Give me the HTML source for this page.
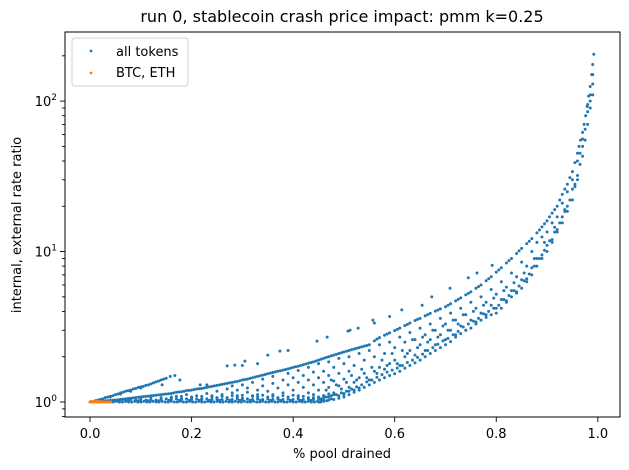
<!DOCTYPE html>
<html><head><meta charset="utf-8"><style>
html,body{margin:0;padding:0;background:#fff}
svg{display:block;font-family:"DejaVu Sans","Liberation Sans",sans-serif}
</style></head><body>
<svg id="chart" width="629" height="470" viewBox="0 0 629 470" xmlns="http://www.w3.org/2000/svg">
<rect x="0" y="0" width="629" height="470" fill="#fff"/>
<text x="342" y="22" font-size="16" text-anchor="middle" fill="#000">run 0, stablecoin crash price impact: pmm k=0.25</text>
<g id="marks"></g>
<g id="axes"></g>
<rect x="65" y="32" width="555" height="385" fill="none" stroke="#000" stroke-width="1"/>
<text x="342" y="458" font-size="13" text-anchor="middle">% pool drained</text>
<text transform="translate(21,225) rotate(-90)" font-size="13" text-anchor="middle">internal, external rate ratio</text>
<g>
<rect x="72" y="38" width="116" height="48" rx="3" fill="#fff" stroke="#ccc" stroke-width="1" opacity="0.9"/>
<circle cx="91" cy="51" r="1.4" fill="#1f77b4"/>
<text x="116" y="56" font-size="13">all tokens</text>
<circle cx="91" cy="73" r="1.4" fill="#ff7f0e"/>
<text x="116" y="77" font-size="13">BTC, ETH</text>
</g>
</svg>
<script>
const xTicks=[0,0.2,0.4,0.6,0.8,1.0];
const xTickLabels=["0.0","0.2","0.4","0.6","0.8","1.0"];
const yMajor=[1,10,100];
const yMajorExp=["0","1","2"];
const branchPts=[[0.01,1.02],[0.015,1.03],[0.02,1.04],[0.025,1.05],[0.03,1.07],[0.035,1.08],[0.04,1.09],[0.045,1.1],[0.05,1.12],[0.055,1.13],[0.06,1.15],[0.065,1.16],[0.07,1.18],[0.075,1.19],[0.08,1.2],[0.085,1.22],[0.09,1.23],[0.095,1.25],[0.1,1.26],[0.105,1.27],[0.11,1.29],[0.115,1.3],[0.12,1.32],[0.125,1.34],[0.13,1.36],[0.135,1.38],[0.14,1.4],[0.145,1.42],[0.15,1.44],[0.158,1.48],[0.02,1.03],[0.04,1.08],[0.06,1.13],[0.08,1.18],[0.1,1.24]];
const upperPts=[[0,1],[0.01,1.005],[0.02,1.01],[0.03,1.02],[0.04,1.025],[0.05,1.03],[0.06,1.04],[0.07,1.05],[0.08,1.06],[0.09,1.07],[0.1,1.08],[0.11,1.09],[0.12,1.1],[0.13,1.11],[0.14,1.12],[0.15,1.13],[0.16,1.14],[0.17,1.16],[0.18,1.17],[0.19,1.19],[0.2,1.2],[0.21,1.22],[0.22,1.23],[0.23,1.25],[0.24,1.27],[0.25,1.29],[0.26,1.31],[0.27,1.33],[0.28,1.35],[0.29,1.37],[0.3,1.4],[0.31,1.42],[0.32,1.45],[0.33,1.48],[0.34,1.51],[0.35,1.54],[0.36,1.57],[0.37,1.6],[0.38,1.63],[0.39,1.66],[0.4,1.7],[0.41,1.73],[0.42,1.77],[0.43,1.81],[0.44,1.85],[0.45,1.9],[0.46,1.95],[0.47,2.0],[0.48,2.05],[0.49,2.1],[0.5,2.15],[0.51,2.2],[0.52,2.25],[0.53,2.3],[0.54,2.35],[0.55,2.4],[0.56,2.55],[0.57,2.68],[0.58,2.78],[0.59,2.88],[0.6,2.98],[0.61,3.1],[0.62,3.22],[0.63,3.35],[0.64,3.48],[0.65,3.6],[0.66,3.74],[0.67,3.88],[0.68,4.02],[0.69,4.16],[0.7,4.3],[0.71,4.5],[0.72,4.7],[0.73,4.92],[0.74,5.15],[0.75,5.4],[0.76,5.7],[0.77,6.0],[0.78,6.4],[0.79,6.8],[0.8,7.3],[0.81,7.8],[0.82,8.4],[0.83,9.0],[0.84,9.7],[0.85,10.5],[0.86,11.3],[0.87,12.2],[0.88,13.3],[0.89,14.6],[0.9,16],[0.905,17],[0.91,18],[0.915,19],[0.92,20],[0.925,22],[0.93,24],[0.935,26],[0.94,28],[0.945,31],[0.95,34],[0.955,39],[0.96,45],[0.963,50],[0.966,55],[0.97,62],[0.973,70],[0.976,80],[0.979,92],[0.982,108],[0.985,125],[0.988,150],[0.99,175],[0.992,205],
[0.005,1.003],[0.015,1.008],[0.025,1.015],[0.035,1.022],[0.045,1.028],[0.055,1.035],[0.065,1.045],[0.075,1.055],[0.085,1.065],[0.095,1.075],[0.105,1.085],[0.115,1.095],[0.125,1.105],[0.135,1.115],[0.145,1.125],[0.155,1.135],[0.165,1.15],[0.175,1.165],[0.185,1.18],[0.195,1.195],[0.205,1.21],[0.215,1.225],[0.225,1.24],[0.235,1.26],[0.245,1.28],[0.255,1.3],[0.265,1.32],[0.275,1.34],[0.285,1.36],[0.295,1.385],[0.305,1.41],[0.315,1.435],[0.325,1.465],[0.335,1.495],[0.345,1.525],[0.355,1.555],[0.365,1.585],[0.375,1.615],[0.385,1.645],[0.395,1.68],[0.405,1.715],[0.415,1.75],[0.425,1.79],[0.435,1.83],[0.445,1.875],[0.455,1.925],[0.465,1.975],[0.475,2.025],[0.485,2.075],[0.495,2.125],[0.505,2.175],[0.515,2.225],[0.525,2.275],[0.535,2.325],[0.545,2.375],[0.565,2.62],[0.585,2.83],[0.605,3.04],[0.625,3.28],[0.645,3.54],[0.665,3.81],[0.685,4.09],[0.705,4.4],[0.725,4.81],[0.745,5.27],[0.765,5.85],[0.785,6.6],[0.805,7.55],[0.825,8.7],[0.845,10.1],[0.865,11.7],[0.885,13.9],[0.895,15.3]];
const lowerPts=[[0.45,1.0],[0.46,1.02],[0.47,1.03],[0.48,1.04],[0.49,1.06],[0.5,1.08],[0.51,1.12],[0.52,1.16],[0.53,1.2],[0.54,1.25],[0.55,1.3],[0.56,1.35],[0.57,1.4],[0.58,1.45],[0.59,1.5],[0.6,1.54],[0.61,1.6],[0.62,1.68],[0.63,1.75],[0.64,1.82],[0.65,1.9],[0.66,2.0],[0.67,2.1],[0.68,2.2],[0.69,2.3],[0.7,2.4],[0.71,2.52],[0.72,2.7],[0.73,2.85],[0.74,3.0],[0.75,3.1],[0.76,3.3],[0.77,3.5],[0.78,3.65],[0.79,3.8],[0.8,3.9],[0.81,4.2],[0.82,4.6],[0.83,5.0],[0.84,5.3],[0.85,5.7],[0.86,6.3],[0.87,7.0],[0.88,8],[0.89,9],[0.9,10],[0.91,11.5],[0.92,13.5],[0.93,15.5],[0.94,18.5],[0.95,22],[0.96,30],[0.97,43],[0.98,70],[0.99,110],
[0.455,1.05],[0.465,1.08],[0.475,1.1],[0.485,1.12],[0.495,1.15],[0.505,1.18],[0.515,1.22],[0.525,1.26],[0.535,1.3],[0.545,1.36],[0.555,1.4],[0.565,1.46],[0.575,1.52],[0.585,1.58],[0.595,1.63],[0.605,1.68],[0.615,1.75],[0.625,1.83],[0.635,1.9],[0.645,1.98],[0.655,2.08],[0.665,2.2],[0.675,2.3],[0.685,2.42],[0.695,2.55],[0.705,2.65],[0.715,2.8],[0.725,2.95],[0.735,3.15],[0.745,3.3],[0.755,3.45],[0.765,3.6],[0.775,3.85],[0.785,4.0],[0.795,4.2],[0.805,4.4],[0.815,4.8],[0.825,5.1],[0.835,5.5],[0.845,5.9],[0.855,6.4],[0.865,7.1],[0.875,8.0],[0.885,9.0],[0.895,10.2],[0.905,11.8],[0.915,13.5],[0.925,15.5],[0.935,18.5],[0.945,22],[0.955,28],[0.965,38],[0.975,55],[0.985,90]];
const bandPts=[[0.04,1.0],[0.046,1.0],[0.052,1.01],[0.058,1.0],[0.064,1.0],[0.07,1.01],[0.076,1.0],[0.082,1.0],[0.088,1.01],[0.094,1.0],[0.1,1.0],[0.106,1.01],[0.112,1.0],[0.118,1.0],[0.124,1.01],[0.13,1.0],[0.136,1.0],[0.142,1.01],[0.148,1.0],[0.154,1.0],[0.16,1.01],[0.166,1.0],[0.172,1.0],[0.178,1.01],[0.184,1.0],[0.19,1.0],[0.196,1.01],[0.202,1.0],[0.208,1.0],[0.214,1.01],[0.22,1.0],[0.226,1.0],[0.232,1.01],[0.238,1.0],[0.244,1.0],[0.25,1.01],[0.256,1.0],[0.262,1.0],[0.268,1.01],[0.274,1.0],[0.28,1.0],[0.286,1.01],[0.292,1.0],[0.298,1.0],[0.304,1.01],[0.31,1.0],[0.316,1.0],[0.322,1.01],[0.328,1.0],[0.334,1.0],[0.34,1.01],[0.346,1.0],[0.352,1.0],[0.358,1.01],[0.364,1.0],[0.37,1.0],[0.376,1.01],[0.382,1.0],[0.388,1.0],[0.394,1.01],[0.4,1.0],[0.406,1.0],[0.412,1.01],[0.418,1.0],[0.424,1.0],[0.43,1.01],[0.436,1.0],[0.442,1.0],[0.448,1.01],[0.454,1.0],[0.46,1.01],[0.466,1.02],
[0.05,1.03],[0.06,1.04],[0.07,1.03],[0.08,1.04],[0.09,1.03],[0.1,1.04],[0.11,1.03],[0.12,1.04],[0.13,1.03],[0.14,1.04],[0.15,1.05],[0.16,1.04],[0.17,1.05],[0.18,1.04],[0.19,1.05],[0.2,1.04],[0.21,1.05],[0.22,1.04],[0.23,1.05],[0.24,1.04],[0.25,1.05],[0.26,1.04],[0.27,1.05],[0.28,1.04],[0.29,1.05],[0.3,1.04],[0.31,1.05],[0.32,1.04],[0.33,1.05],[0.34,1.04],[0.35,1.05],[0.36,1.04],[0.37,1.05],[0.38,1.04],[0.39,1.05],[0.4,1.04],[0.41,1.05],[0.42,1.04],[0.43,1.05],[0.44,1.04],[0.45,1.05],[0.46,1.06],[0.47,1.08],
[0.055,1.02],[0.075,1.02],[0.095,1.02],[0.115,1.02],[0.135,1.02],[0.155,1.025],[0.175,1.025],[0.195,1.025],[0.215,1.025],[0.235,1.025],[0.255,1.025],[0.275,1.025],[0.295,1.025],[0.315,1.025],[0.335,1.025],[0.355,1.025],[0.375,1.025],[0.395,1.025],[0.415,1.025],[0.435,1.025],[0.455,1.03],[0.475,1.05],
[0.1,1.07],[0.12,1.08],[0.14,1.07],[0.16,1.08],[0.18,1.09],[0.2,1.08],[0.22,1.09],[0.24,1.1],[0.26,1.09],[0.28,1.1],[0.3,1.11],[0.32,1.1],[0.34,1.11],[0.36,1.09],[0.38,1.1],[0.4,1.11],[0.42,1.09],[0.44,1.12],[0.46,1.1],[0.48,1.12],
[0.25,1.07],[0.29,1.08],[0.33,1.08],[0.37,1.07],[0.41,1.08],[0.43,1.07],[0.45,1.08],[0.47,1.13],[0.49,1.1],[0.5,1.14],[0.51,1.18],[0.52,1.2],[0.53,1.24]];
const scatterPts=[[0.16,1.06],[0.17,1.09],[0.18,1.05],[0.19,1.12],[0.2,1.07],[0.21,1.1],[0.22,1.05],[0.23,1.14],[0.24,1.08],[0.25,1.18],[0.25,1.06],[0.26,1.12],[0.27,1.22],[0.27,1.07],[0.28,1.15],[0.28,1.28],[0.29,1.1],[0.29,1.2],[0.3,1.06],[0.3,1.3],[0.31,1.16],[0.31,1.24],[0.32,1.09],[0.32,1.35],[0.33,1.2],[0.33,1.12],[0.34,1.28],[0.34,1.42],[0.35,1.08],[0.35,1.18],[0.36,1.33],[0.36,1.48],[0.36,1.12],[0.37,1.24],[0.37,1.05],[0.38,1.4],[0.38,1.15],[0.39,1.3],[0.39,1.55],[0.39,1.08],[0.4,1.2],[0.4,1.45],[0.41,1.1],[0.41,1.35],[0.41,1.62],[0.42,1.25],[0.42,1.5],[0.43,1.15],[0.43,1.7],[0.43,1.4],[0.44,1.3],[0.44,1.58],[0.44,1.07],[0.45,1.2],[0.45,1.8],[0.45,1.45],[0.46,1.1],[0.46,1.6],[0.46,1.35],[0.47,1.25],[0.47,1.85],[0.47,1.5],[0.48,1.15],[0.48,1.7],[0.48,1.38],[0.49,1.28],[0.49,1.95],[0.49,1.55],[0.5,1.12],[0.5,1.8],[0.5,1.42],[0.51,1.25],[0.51,2.0],[0.51,1.6],[0.52,1.35],[0.52,1.75],[0.53,1.45],[0.53,2.1],[0.54,1.55],[0.54,1.9],[0.55,1.4],[0.55,2.2],[0.56,1.6],[0.56,2.0],[0.57,1.7],[0.57,2.4],[0.58,1.65],[0.58,2.1],[0.59,1.8],[0.59,2.5],[0.6,1.9],[0.6,2.3],[0.61,1.75],[0.61,2.7],[0.62,2.0],[0.62,2.5],[0.63,2.2],[0.63,2.9],[0.64,2.05],[0.64,2.6],[0.65,2.4],[0.65,3.1],[0.66,2.2],[0.66,2.8],[0.67,2.6],[0.67,3.3],[0.68,2.4],[0.68,3.0],[0.69,2.8],[0.69,3.6],[0.7,2.6],[0.7,3.3],[0.71,3.0],[0.71,3.9],[0.72,2.8],[0.72,3.5],[0.73,3.2],[0.73,4.2],[0.74,3.0],[0.74,3.8],[0.75,3.5],[0.75,4.6],[0.76,3.4],[0.76,4.2],[0.77,3.9],[0.77,5.0],[0.78,3.8],[0.78,4.6],[0.79,4.4],[0.79,5.6],[0.8,4.2],[0.8,5.2],[0.81,4.8],[0.81,6.3],[0.82,4.7],[0.82,5.8],[0.83,5.5],[0.83,7.2],[0.84,5.4],[0.84,6.8],[0.85,6.5],[0.85,8.5],[0.86,6.6],[0.86,8.0],[0.87,7.8],[0.87,10],[0.88,9.0],[0.88,11.5],[0.89,9.5],[0.89,12.5],[0.9,11],[0.9,13.5],[0.91,12],[0.91,15.5],[0.92,14],[0.92,17],[0.93,17],[0.93,21],[0.94,20],[0.94,25],[0.95,26],[0.95,30],[0.96,32],[0.96,40],[0.97,50],[0.97,56],[0.98,85],[0.98,95],[0.985,100],[0.99,130],[0.99,150],
[0.465,1.2],[0.475,1.4],[0.485,1.3],[0.495,1.22],[0.505,1.35],[0.515,1.5],[0.525,1.4],[0.535,1.65],[0.545,1.45],[0.555,1.7],[0.565,1.55],[0.575,1.9],[0.585,1.75],[0.595,2.1],[0.605,1.8],[0.615,2.2],[0.625,2.1],[0.635,2.6],[0.645,2.3],[0.655,2.7],[0.665,2.5],[0.675,3.0],[0.685,2.7],[0.695,3.2],[0.705,3.0],[0.715,3.5],[0.725,3.3],[0.735,3.8],[0.755,4.0],[0.775,4.4],[0.795,4.9],[0.815,5.5],[0.835,6.2],[0.855,7.2],[0.875,9.0],[0.895,11.5],[0.915,14.5],[0.935,19],[0.955,27],[0.965,45],[0.975,65],[0.985,110]];
const outlierPts=[[0.167,1.5],[0.177,1.4],[0.142,1.3],[0.217,1.3],[0.23,1.3],[0.27,1.74],[0.285,1.76],[0.3,1.75],[0.305,1.87],[0.33,1.8],[0.35,2.05],[0.374,2.18],[0.39,2.2],[0.447,2.54],[0.467,2.7],[0.508,2.96],[0.528,3.1],[0.56,3.35],[0.512,3.0],[0.557,3.5],[0.59,3.7],[0.614,4.1],[0.654,4.4],[0.673,5.0],[0.709,5.7],[0.745,6.7],[0.762,7.2],[0.792,8.1]];
const btcEthPts=[[0.0,1.0],[0.004,1.0],[0.008,1.0],[0.012,1.0],[0.016,1.0],[0.02,1.0],[0.024,1.0],[0.028,1.0],[0.032,1.0],[0.036,1.0],[0.04,1.0],[0.002,1.01],[0.008,1.01],[0.014,1.01],[0.02,1.01]];

const NS="http://www.w3.org/2000/svg";
const X0=65,X1=620,Y0=32,Y1=417;
const xMin=-0.0493,xMax=1.0437;
const lyMin=Math.log10(0.795),lyMax=Math.log10(288);
function xs(v){return X0+(v-xMin)/(xMax-xMin)*(X1-X0);}
function ys(v){return Y1-(Math.log10(v)-lyMin)/(lyMax-lyMin)*(Y1-Y0);}
const marks=document.getElementById('marks');
const axes=document.getElementById('axes');
function drawSet(pts,color,name){
  const g=document.createElementNS(NS,'g');
  
  
  pts.forEach(p=>{
    const c=document.createElementNS(NS,'circle');
    
    
    c.setAttribute('cx',xs(p[0]).toFixed(2));
    c.setAttribute('cy',ys(p[1]).toFixed(2));
    c.setAttribute('r','1.5');
    c.setAttribute('fill',color);
    g.appendChild(c);
  });
  marks.appendChild(g);
}
const blue='#1f77b4';
drawSet(bandPts,blue,'series-all-tokens-band');
drawSet(branchPts,blue,'series-all-tokens-branch');
drawSet(upperPts,blue,'series-all-tokens-upper');
drawSet(lowerPts,blue,'series-all-tokens-lower');
drawSet(scatterPts,blue,'series-all-tokens-scatter');
drawSet(outlierPts,blue,'series-all-tokens-outliers');
drawSet(btcEthPts,'#ff7f0e','series-btc-eth');

function line(x1,y1,x2,y2){
  const l=document.createElementNS(NS,'line');
  l.setAttribute('x1',x1);l.setAttribute('y1',y1);l.setAttribute('x2',x2);l.setAttribute('y2',y2);
  l.setAttribute('stroke','#000');l.setAttribute('stroke-width','0.9');
  return l;
}
xTicks.forEach((t,i)=>{
  const x=xs(t);
  const tk=line(x,Y1,x,Y1+5);
  
  
  axes.appendChild(tk);
  const tx=document.createElementNS(NS,'text');
  
  
  tx.setAttribute('x',x);tx.setAttribute('y',Y1+21);
  tx.setAttribute('font-size','13');tx.setAttribute('text-anchor','middle');
  tx.textContent=xTickLabels[i];
  axes.appendChild(tx);
});
yMajor.forEach((t,i)=>{
  const y=ys(t);
  const tk=line(X0-5,y,X0,y);
  
  
  axes.appendChild(tk);
  const tx=document.createElementNS(NS,'text');
  
  
  tx.setAttribute('x',X0-8);tx.setAttribute('y',y+5);
  tx.setAttribute('font-size','13');tx.setAttribute('text-anchor','end');
  const base=document.createElementNS(NS,'tspan');base.textContent='10';
  const sup=document.createElementNS(NS,'tspan');sup.setAttribute('font-size','9');sup.setAttribute('dy','-6');sup.textContent=yMajorExp[i];
  tx.appendChild(base);tx.appendChild(sup);
  axes.appendChild(tx);
});
[0.1,1,10,100].forEach(d=>{
  for(let m=2;m<=9;m++){
    const v=d*m;
    const y=ys(v);
    if(y<Y0||y>Y1) continue;
    const tk=line(X0-3,y,X0,y);
    
    
    axes.appendChild(tk);
  }
});
</script>
</body></html>
